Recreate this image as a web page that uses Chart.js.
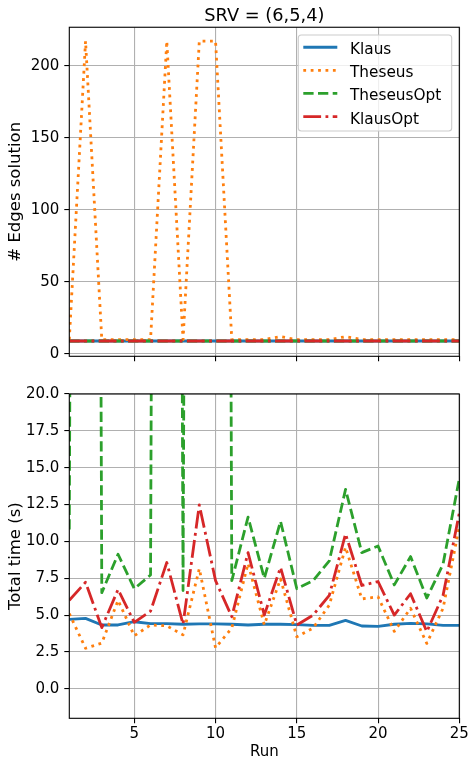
<!DOCTYPE html>
<html>
<head>
<meta charset="utf-8">
<script src="https://cdn.jsdelivr.net/npm/chart.js@4.4.0/dist/chart.umd.min.js"></script>
<style>
html, body { margin: 0; padding: 0; background: #fff; }
#top { position: absolute; left: 0; top: 0; width: 476px; height: 380px; }
#bottom { position: absolute; left: 0; top: 380px; width: 476px; height: 386px; }
</style>
</head>
<body>
<div id="top"><canvas id="edgesChart"></canvas></div>
<div id="bottom"><canvas id="timeChart"></canvas></div>
<script>
// runs on the x axis
var runs = [1, 2, 3, 4, 5, 6, 7, 8, 9, 10, 11, 12, 13, 14, 15, 16, 17, 18, 19, 20, 21, 22, 23, 24, 25];
var labels = ["Klaus", "Theseus", "TheseusOpt", "KlausOpt"];

// # edges of the solution
var klausEdges      = [9, 9, 9, 9, 9, 9, 9, 9, 9, 9, 9, 9, 9, 9, 9, 9, 9, 9, 9, 9, 9, 9, 9, 9, 9];
var theseusEdges    = [10, 217, 10, 10, 10, 10, 217, 10, 217, 217, 10, 10, 10, 12, 10, 10, 10, 12, 10, 10, 10, 10, 10, 10, 10];
var theseusOptEdges = [9, 9, 9, 9, 9, 9, 9, 9, 9, 9, 9, 9, 9, 9, 9, 9, 9, 9, 9, 9, 9, 9, 9, 9, 9];
var klausOptEdges   = [9, 9, 9, 9, 9, 9, 9, 9, 9, 9, 9, 9, 9, 9, 9, 9, 9, 9, 9, 9, 9, 9, 9, 9, 9];

// total time in seconds
var klausTime      = [4.71, 4.78, 4.33, 4.33, 4.55, 4.42, 4.42, 4.38, 4.40, 4.40, 4.38, 4.33, 4.38, 4.38, 4.35, 4.31, 4.31, 4.64, 4.26, 4.24, 4.38, 4.44, 4.40, 4.31, 4.31];
var theseusTime    = [5.1, 2.75, 3.1, 6.0, 3.6, 4.33, 4.27, 3.66, 8.15, 2.78, 4.12, 8.5, 4.34, 7.46, 3.53, 4.12, 5.68, 9.6, 6.1, 6.24, 3.9, 5.46, 3.08, 5.46, 11.0];
var theseusOptTime = [10.8, 300, 6.52, 9.13, 6.79, 7.72, 300, 6.67, 300, 300, 7.34, 11.65, 7.5, 11.36, 6.79, 7.34, 8.68, 13.53, 9.24, 9.69, 7.05, 8.97, 6.16, 8.46, 14.26];
var klausOptTime   = [6.0, 7.23, 4.15, 6.74, 4.51, 5.27, 8.57, 4.38, 12.48, 7.34, 4.89, 9.24, 5.0, 8.24, 4.33, 5.0, 6.34, 10.51, 7.01, 7.28, 5.0, 6.45, 3.88, 6.34, 11.92];

var colors = ["#1f77b4", "#ff7f0e", "#2ca02c", "#d62728"];
var dashes = [[], [2.8, 4.6], [10.3, 4.4], [17.8, 4.4, 2.8, 4.4]];
var FONT = "'DejaVu Sans', sans-serif";

function points(ys) {
  return runs.map(function(r, i) { return { x: r, y: ys[i] }; });
}

function makeDatasets(series) {
  return series.map(function(ys, i) {
    return {
      label: labels[i],
      data: points(ys),
      borderColor: colors[i],
      backgroundColor: colors[i],
      borderWidth: 2.8,
      borderDash: dashes[i],
      borderCapStyle: 'butt',
      borderJoinStyle: 'round',
      pointRadius: 0,
      tension: 0,
      fill: false,
      clip: 0,
      order: 4 - i
    };
  });
}

var framePlugin = {
  id: 'frame',
  afterDatasetsDraw: function(chart) {
    var a = chart.chartArea, ctx = chart.ctx;
    ctx.save();
    ctx.strokeStyle = '#000';
    ctx.lineWidth = 1.1;
    ctx.strokeRect(a.left, a.top, a.right - a.left, a.bottom - a.top);
    ctx.restore();
  }
};

// legend box like matplotlib's, upper right
var boxLegend = {
  id: 'boxLegend',
  afterDraw: function(chart) {
    var ctx = chart.ctx, a = chart.chartArea;
    var w = 153.4, h = 96;
    var x0 = a.right - 7.6 - w, y0 = a.top + 7.7;
    ctx.save();
    ctx.beginPath();
    ctx.roundRect(x0, y0, w, h, 3);
    ctx.fillStyle = 'rgba(255,255,255,0.8)';
    ctx.fill();
    ctx.strokeStyle = '#cccccc';
    ctx.lineWidth = 1.1;
    ctx.stroke();
    var dsList = chart.data.datasets;
    for (var i = 0; i < dsList.length; i++) {
      var ds = dsList[i];
      var ly = y0 + 12.3 + i * 23.1;
      ctx.beginPath();
      ctx.setLineDash(ds.borderDash);
      ctx.lineWidth = ds.borderWidth;
      ctx.strokeStyle = ds.borderColor;
      ctx.lineCap = 'butt';
      ctx.moveTo(x0 + 5, ly);
      ctx.lineTo(x0 + 39, ly);
      ctx.stroke();
      ctx.setLineDash([]);
      ctx.fillStyle = '#000';
      ctx.font = "15.3px " + FONT;
      ctx.textBaseline = 'alphabetic';
      ctx.textAlign = 'left';
      ctx.fillText(ds.label, x0 + 51.7, ly + 7);
    }
    ctx.restore();
  }
};

function xScale(showLabels, height) {
  return {
    type: 'linear',
    min: 1,
    max: 25,
    afterBuildTicks: function(s) { s.ticks = [5, 10, 15, 20, 25].map(function(v) { return { value: v }; }); },
    afterFit: function(s) { s.height = height; },
    grid: { color: '#b0b0b0', lineWidth: 1.1, drawTicks: true, tickLength: 5, tickColor: '#000', tickWidth: 1.1 },
    border: { display: false },
    ticks: { display: showLabels, color: '#000', font: { family: FONT, size: 15 }, padding: 2, maxRotation: 0, autoSkip: false },
    title: { display: showLabels, text: 'Run', color: '#000', font: { family: FONT, size: 15 }, padding: { top: 0, bottom: 5 } }
  };
}

function yScale(min, max, tickVals, fmt, titleText) {
  return {
    type: 'linear',
    min: min,
    max: max,
    afterBuildTicks: function(s) { s.ticks = tickVals.map(function(v) { return { value: v }; }); },
    afterFit: function(s) { s.width = 69.3; },
    grid: { color: '#b0b0b0', lineWidth: 1.1, drawTicks: true, tickLength: 5, tickColor: '#000', tickWidth: 1.1 },
    border: { display: false },
    ticks: { color: '#000', font: { family: FONT, size: 15 }, padding: 5, callback: fmt },
    title: { display: true, text: titleText, color: '#000', font: { family: FONT, size: 16.5 }, padding: { top: 6, bottom: 0 } }
  };
}

new Chart(document.getElementById('edgesChart'), {
  type: 'line',
  data: { datasets: makeDatasets([klausEdges, theseusEdges, theseusOptEdges, klausOptEdges]) },
  options: {
    responsive: true,
    maintainAspectRatio: false,
    animation: false,
    devicePixelRatio: 1,
    layout: { padding: { left: 0, right: 16.7, top: 0, bottom: 0 } },
    scales: {
      x: xScale(false, 23.7),
      y: yScale(-1.6, 226.6, [0, 50, 100, 150, 200], function(v) { return String(v); }, '# Edges solution')
    },
    plugins: {
      legend: { display: false },
      tooltip: { enabled: false },
      title: { display: true, text: 'SRV = (6,5,4)', fullSize: false, color: '#000', font: { family: FONT, size: 17.8, weight: 'normal' }, padding: { top: 5.5, bottom: 0.4 } }
    }
  },
  plugins: [framePlugin, boxLegend]
});

new Chart(document.getElementById('timeChart'), {
  type: 'line',
  data: { datasets: makeDatasets([klausTime, theseusTime, theseusOptTime, klausOptTime]) },
  options: {
    responsive: true,
    maintainAspectRatio: false,
    animation: false,
    devicePixelRatio: 1,
    layout: { padding: { left: 0, right: 16.7, top: 9.3, bottom: 0 } },
    scales: {
      x: xScale(true, 47.7),
      y: yScale(-2, 20, [0, 2.5, 5, 7.5, 10, 12.5, 15, 17.5, 20], function(v) { return v.toFixed(1); }, 'Total time (s)')
    },
    plugins: {
      legend: { display: false },
      tooltip: { enabled: false }
    }
  },
  plugins: [framePlugin]
});
</script>
</body>
</html>
